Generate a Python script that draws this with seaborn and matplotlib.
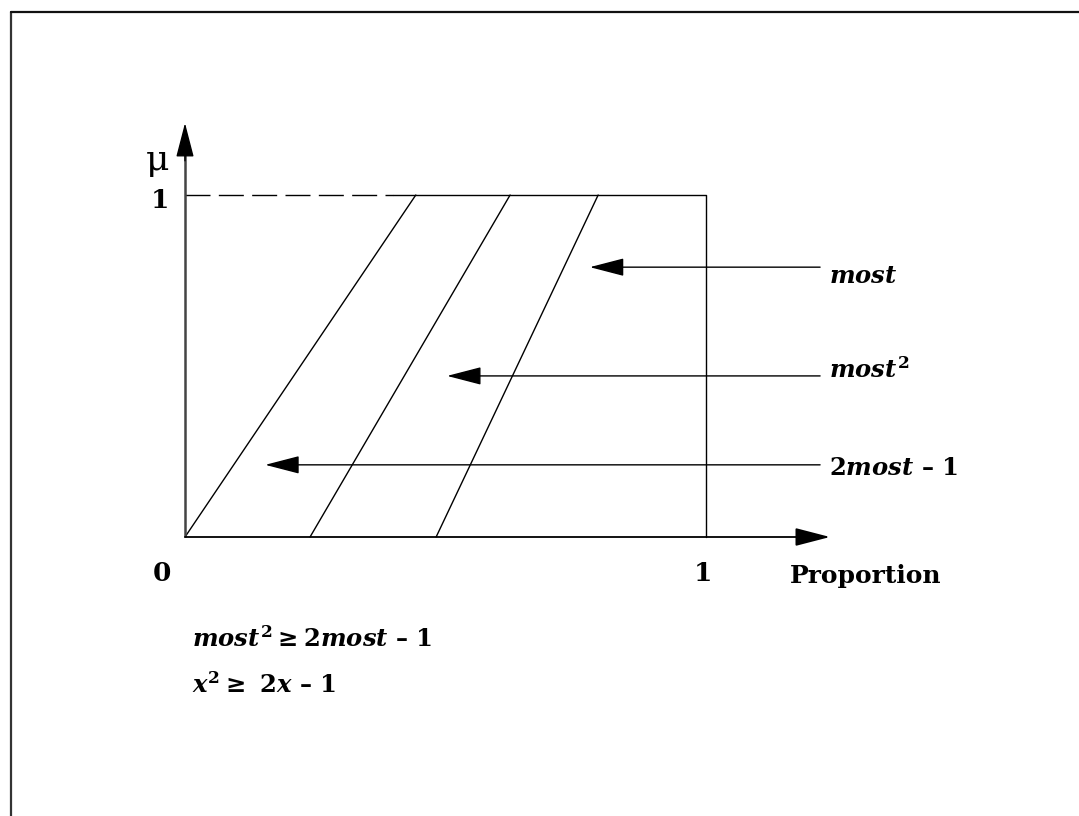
import numpy as np
import pandas as pd
import matplotlib
matplotlib.use('Agg')
import matplotlib.pyplot as plt
from matplotlib.lines import Line2D
import seaborn as sns

# diagonal membership lines: start on the x axis, end at mu = 1
line_names = ['2most-1', 'most2', 'most']
line_bottom_x = [0.0, 0.24, 0.482]
line_top_x = [0.443, 0.624, 0.793]

# arrows pointing at the lines, with their labels
arrow_labels = [r'$most$', r'$most^2$', r'2$most$ – 1']
arrow_y = [0.789, 0.471, 0.211]
arrow_tip_x = [0.777, 0.503, 0.154]
arrow_tail_x = 1.219
label_y = [0.743, 0.465, 0.181]

# top edge of the box: dashed part then solid part
dash_end = 0.40

sns.set_style('white')
plt.rcParams['font.family'] = ['DejaVu Serif', 'DejaVu Sans']
plt.rcParams['text.color'] = 'black'
plt.rcParams['mathtext.fontset'] = 'custom'
plt.rcParams['mathtext.rm'] = 'DejaVu Serif:bold'
plt.rcParams['mathtext.bf'] = 'DejaVu Serif:bold'
plt.rcParams['mathtext.it'] = 'DejaVu Serif:italic:bold'

fig = plt.figure(figsize=(10.79, 8.16), dpi=100)
ax = fig.add_axes([0, 0, 1, 1])
ax.set_xlim(-185 / 521, (1079 - 185) / 521)
ax.set_ylim((537 - 816) / 342, 537 / 342)
ax.axis('off')

# the diagonals
rows = []
for name, x0, x1 in zip(line_names, line_bottom_x, line_top_x):
    rows.append({'line': name, 'x': x0, 'y': 0.0})
    rows.append({'line': name, 'x': x1, 'y': 1.0})
df = pd.DataFrame(rows)
sns.lineplot(data=df, x='x', y='y', units='line', estimator=None,
             color='black', lw=1.0, ax=ax, sort=False)

# box
ax.plot([0, dash_end], [1, 1], color='black', lw=1.0, dashes=(18, 6))
ax.plot([dash_end, 1, 1], [1, 1, 0], color='black', lw=1.0)

# axes with arrow heads
head = '-|>,head_length=21.6,head_width=5.6'
ax.annotate('', xy=(1.238, 0), xytext=(0, 0),
            arrowprops=dict(arrowstyle=head, mutation_scale=1, color='black',
                            lw=1.3, shrinkA=0, shrinkB=0))
ax.plot([0, 0], [0, 1.13], color='#444444', lw=1.8, solid_capstyle='butt')
ax.annotate('', xy=(0, 1.2105), xytext=(0, 1.1),
            arrowprops=dict(arrowstyle=head, mutation_scale=1, color='black',
                            lw=1.0, shrinkA=0, shrinkB=0))

# pointer arrows and labels
for lab, y, xt, ly in zip(arrow_labels, arrow_y, arrow_tip_x, label_y):
    ax.annotate('', xy=(xt, y), xytext=(arrow_tail_x, y),
                arrowprops=dict(arrowstyle=head, mutation_scale=1, color='black',
                                lw=1.0, shrinkA=0, shrinkB=0))
    ax.text(1.236, ly, lab, fontsize=17.5, fontweight='bold',
            ha='left', va='baseline')

# axis texts
ax.text(-0.052, 1.102, 'μ', fontsize=26, ha='center', va='center')
ax.text(-0.048, 0.962, '1', fontsize=19, fontweight='bold', ha='center', va='baseline')
ax.text(-0.044, -0.129, '0', fontsize=19, fontweight='bold', ha='center', va='baseline')
ax.text(0.994, -0.129, '1', fontsize=19, fontweight='bold', ha='center', va='baseline')
ax.text(1.161, -0.1345, 'Proportion', fontsize=18, fontweight='bold',
        ha='left', va='baseline')

# inequalities
ax.text(0.0134, -0.3216, r'$most^2 \geq$2$most$ – 1', fontsize=17.5,
        fontweight='bold', ha='left', va='baseline')
ax.text(0.0134, -0.456, r'$x^2 \geq$ 2$x$ – 1', fontsize=17.5,
        fontweight='bold', ha='left', va='baseline')

# frame (only top and left edges visible)
fig.add_artist(Line2D([11 / 1079, 11 / 1079], [0, 1 - 12 / 816],
                      transform=fig.transFigure, color='#333333', lw=1.6))
fig.add_artist(Line2D([11 / 1079, 1], [1 - 12 / 816, 1 - 12 / 816],
                      transform=fig.transFigure, color='#111111', lw=1.6))

fig.savefig('out.png', dpi=100)
